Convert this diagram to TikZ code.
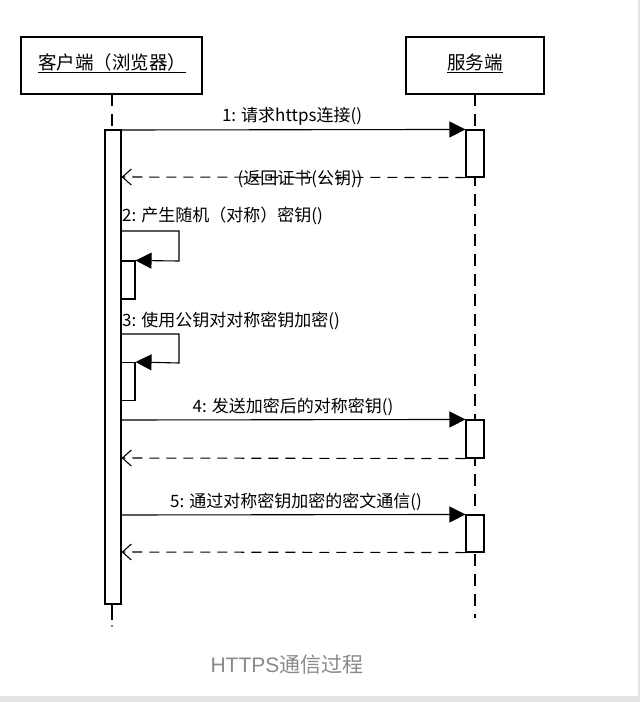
\documentclass[tikz,border=0pt]{standalone}
\usepackage{fontspec}
\setmainfont{Liberation Sans}
\newfontfamily\cjk{Noto Sans CJK SC}
\usetikzlibrary{arrows.meta}
\definecolor{capgray}{HTML}{8A8A8A}
\definecolor{bandgray}{HTML}{E4E4E4}
\tikzset{
  lifebox/.style={draw, line width=2pt, minimum width=#1, minimum height=57pt, inner sep=0pt},
  lifeline/.style={line width=1.1pt, dash pattern=on 12pt off 8pt},
  actbar/.style={draw, line width=1.1pt, fill=white},
  callmsg/.style={line width=1.1pt, -{Triangle[length=16pt,width=16pt]}},
  retmsg/.style={line width=1.1pt, dash pattern=on 10pt off 7pt, -{Straight Barb[length=9pt,width=16pt,line width=1.1pt]}},
  selfmsg/.style={line width=1.1pt, -{Triangle[length=16pt,width=16pt]}},
  msglabel/.style={font=\cjk\fontsize{17}{17}\selectfont, inner sep=1pt},
  headlabel/.style={font=\cjk\fontsize{18.5}{18.5}\selectfont, inner sep=0pt}
}
\begin{document}
\begin{tikzpicture}[x=1pt,y=-1pt]
\useasboundingbox (0,0) rectangle (640,702);
\fill[white] (0,0) rectangle (640,702);
\fill[bandgray] (0,696) rectangle (640,702);
\fill[bandgray] (638,0) rectangle (640,702);

% heads
\node[lifebox=181pt] (client) at (111.5,65.5) {};
\node[headlabel] (clientlbl) at (112,63) {\underline{客户端（浏览器）}};
\node[lifebox=138pt] (server) at (475,65.5) {};
\node[headlabel] (serverlbl) at (475,63) {\underline{服务端}};

% lifelines
\coordinate (cl0) at (112,94);
\coordinate (cl1) at (112,130);
\coordinate (cl2) at (112,604);
\coordinate (cl3) at (112,620);
\coordinate (sv0) at (475,94);
\coordinate (sv1) at (475,618);
\draw[lifeline] (cl0) -- (cl1);
\draw[line width=1.1pt] (cl2) -- (cl3);
\fill (112,626) circle (0.9pt);
\draw[lifeline] (sv0) -- (sv1);

% activation bars
\node[actbar, minimum width=16pt, minimum height=474pt, inner sep=0pt] (cact) at (113,367) {};
\node[actbar, minimum width=18pt, minimum height=47pt, inner sep=0pt] (s1) at (475,153.5) {};
\node[actbar, minimum width=18pt, minimum height=38pt, inner sep=0pt] (s4) at (475,439) {};
\node[actbar, minimum width=18pt, minimum height=37pt, inner sep=0pt] (s5) at (475,533.5) {};
\node[actbar, minimum width=14pt, minimum height=38pt, inner sep=0pt] (n2) at (128,280) {};
\node[actbar, minimum width=14pt, minimum height=38pt, inner sep=0pt] (n3) at (128,381.5) {};

% message 1
\draw[callmsg] (cact.east |- 0,130) -- (s1.north west);
\node[msglabel, anchor=south] (m1) at (292,127) {1: 请求https连接()};
\draw[retmsg] (s1.south west) -- (cact.east |- 0,177);
\node[msglabel] (r1) at (300,179) {(返回证书(公钥))};

% message 2 (self)
\node[msglabel, anchor=south west] (m2) at (121,226) {2: 产生随机（对称）密钥()};
\coordinate (l2a) at (121,231);
\coordinate (l2b) at (179,231);
\coordinate (l2c) at (179,261);
\draw[selfmsg] (l2a) -- (l2b) -- (l2c) -- (n2.north east);

% message 3 (self)
\node[msglabel, anchor=south west] (m3) at (121,331) {3: 使用公钥对对称密钥加密()};
\coordinate (l3a) at (121,334);
\coordinate (l3b) at (179,334);
\coordinate (l3c) at (179,363);
\draw[selfmsg] (l3a) -- (l3b) -- (l3c) -- (n3.north east);

% message 4
\draw[callmsg] (cact.east |- 0,420) -- (s4.north west);
\node[msglabel, anchor=south] (m4) at (293,417) {4: 发送加密后的对称密钥()};
\draw[retmsg] (s4.south west) -- (cact.east |- 0,458);

% message 5
\draw[callmsg] (cact.east |- 0,515) -- (s5.north west);
\node[msglabel, anchor=south] (m5) at (296,512) {5: 通过对称密钥加密的密文通信()};
\draw[retmsg] (s5.south west) -- (cact.east |- 0,552);

% caption
\node[text=capgray, font=\fontsize{21}{21}\selectfont, inner sep=0pt] (cap) at (287,665) {HTTPS{\cjk 通信过程}};
\end{tikzpicture}
\end{document}
